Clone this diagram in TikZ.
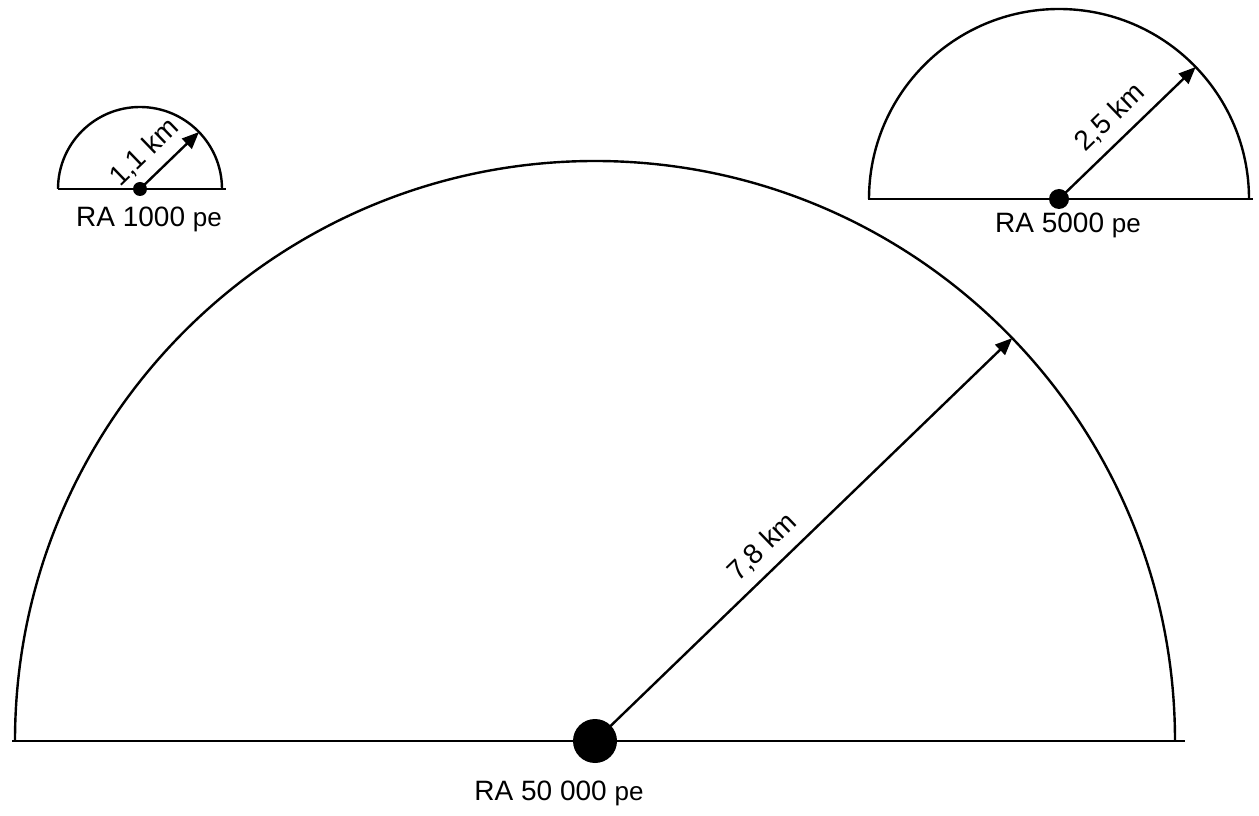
\documentclass[tikz,border=0pt]{standalone}
\usepackage{fontspec}
\setmainfont{Liberation Sans}
\usetikzlibrary{arrows.meta, calc}
\tikzset{
    rim/.style={line width=1.2pt},
    ray/.style={-{Triangle[length=8.5pt, width=7pt]}, line width=1.2pt},
    dot/.style={circle, fill=black, inner sep=0pt, minimum size=#1},
    rlabel/.style={font=\fontsize{14}{17}\selectfont, anchor=base, inner sep=0pt},
    klabel/.style={font=\fontsize{14}{17}\selectfont, sloped, above=2pt, inner sep=3pt}
}
\newcommand{\pe}{{\fontsize{13}{15}\selectfont pe}}

\begin{document}
\begin{tikzpicture}[x=0.5pt, y=0.5pt]
    \useasboundingbox (0,0) rectangle (1259,815);
    \coordinate (c50) at (595,74);
    \coordinate (c5) at (1059,616);
    \coordinate (c1) at (140,626);

    % RA 50 000 pe
    \draw[rim] ($(c50)+(-583,0)$) -- ($(c50)+(590,0)$);
    \draw[rim] ($(c50)+(-580,0)$) arc[start angle=180, end angle=0, radius=580];
    \coordinate (r50) at ($(c50)+(44:580)$);
    \draw[ray] (c50) -- node[klabel, pos=0.44] (k50) {7,8 km} (r50);
    \node[dot=22pt] (d50) at (c50) {};
    \node[rlabel] (ra50) at ($(c50)+(-36,-59)$) {RA 50 000 \pe};

    % RA 5000 pe
    \draw[rim] ($(c5)+(-191,0)$) -- ($(c5)+(194,0)$);
    \draw[rim] ($(c5)+(-190,0)$) arc[start angle=180, end angle=0, radius=190];
    \coordinate (r5) at ($(c5)+(44:190)$);
    \draw[ray] (c5) -- node[klabel, pos=0.49] (k5) {2,5 km} (r5);
    \node[dot=10pt] (d5) at (c5) {};
    \node[rlabel] (ra5) at ($(c5)+(9,-34)$) {RA 5000 \pe};

    % RA 1000 pe
    \draw[rim] ($(c1)+(-82,0)$) -- ($(c1)+(86,0)$);
    \draw[rim] ($(c1)+(-82,0)$) arc[start angle=180, end angle=0, radius=82];
    \coordinate (r1) at ($(c1)+(44:82)$);
    \draw[ray] (c1) -- node[klabel, pos=0.35] (k1) {1,1 km} (r1);
    \node[dot=7pt] (d1) at (c1) {};
    \node[rlabel] (ra1) at ($(c1)+(9,-38)$) {RA 1000 \pe};
\end{tikzpicture}
\end{document}
